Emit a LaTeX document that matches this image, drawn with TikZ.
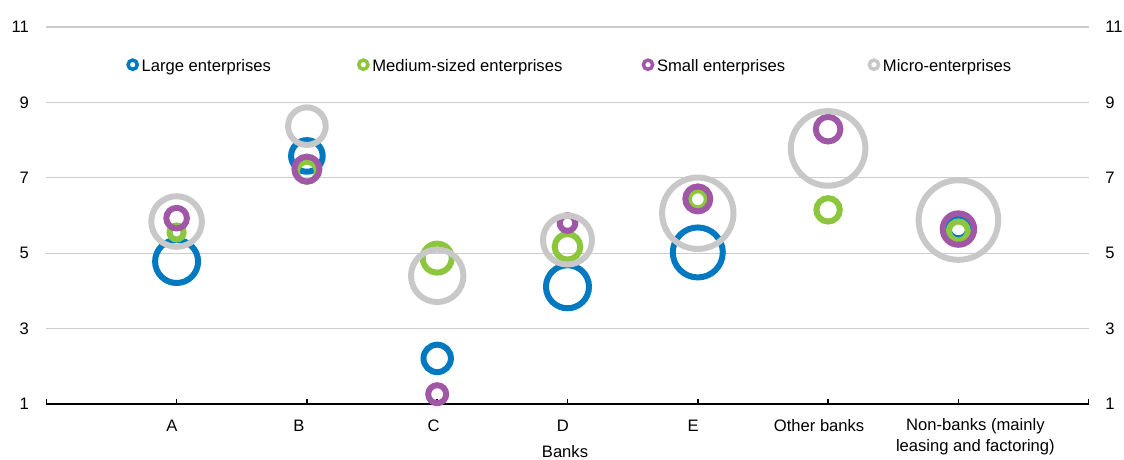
\documentclass[tikz,border=0pt]{standalone}
\usepackage{fontspec}
\setmainfont{Liberation Sans}
\definecolor{lgblue}{RGB}{0,121,193}
\definecolor{lggreen}{RGB}{140,198,62}
\definecolor{lgpurple}{RGB}{160,88,166}
\definecolor{lggrey}{RGB}{200,200,200}
\definecolor{lgrid}{RGB}{204,204,204}
\tikzset{
  bub/.style={line width=6pt},
  lgmark/.style={line width=3.5pt},
  lbl/.style={inner sep=0pt,font=\fontsize{16.6}{20}\selectfont},
}
\begin{document}
\begin{tikzpicture}
\pgfmathsetmacro{\bxstep}{130.3/28.45274}
\pgfmathsetmacro{\bystep}{37.7/28.45274}
\useasboundingbox (-46.3pt,-55pt) rectangle (1077.7pt,404pt);
\foreach \bv in {3,5,...,11}{\draw[lgrid,line width=1.3pt](0,{(\bv-1)*\bystep})--(8*\bxstep,{(\bv-1)*\bystep});}
\foreach \bv in {1,3,...,11}{\node[lbl,anchor=east](yl\bv) at (0,{(\bv-1)*\bystep})[xshift=-17.3pt]{\bv};}
\foreach \bv in {1,3,...,11}{\node[lbl,anchor=west](yr\bv) at (8*\bxstep,{(\bv-1)*\bystep})[xshift=16.4pt]{\bv};}
\draw[line width=2pt](0,0)--(8*\bxstep,0);
\foreach \bx in {0,...,8}{\draw[line width=1.5pt](\bx*\bxstep,0)--++(90:5pt);}
%\draw[gray,dashed](0,0) rectangle (8*\bxstep,10*\bystep);
\foreach \bx/\bxo/\blb in {1/-4.6/A,2/-8/B,3/-3.5/C,4/-4.7/D,5/-4.7/E,6/-9/Other banks}{\node[lbl,anchor=base](cat\bx) at (\bx*\bxstep,0)[xshift=\bxo pt,yshift=-27pt]{\blb};}
\node[lbl,anchor=base](cat7) at (7*\bxstep,0)[xshift=17pt,yshift=-26pt]{Non-banks (mainly};
\node[lbl,anchor=base](cat7b) at (7*\bxstep,0)[xshift=17pt,yshift=-47.7pt]{leasing and factoring)};
\node[lbl,anchor=base](banks) at (4*\bxstep,0)[xshift=-2.5pt,yshift=-53pt]{Banks};
% bubbles: category/value/radius
\foreach \bx/\bv/\br in {1/4.78/21.5,2/7.58/15.8,3/2.21/13.7,4/4.11/21.5,5/5.02/25,7/5.66/10}{\draw[bub,lgblue](\bx*\bxstep,{(\bv-1)*\bystep})circle[radius=\br pt];}
\foreach \bx/\bv/\br in {1/5.55/7,2/7.16/10,3/4.87/14.5,4/5.17/12.8,5/6.43/9,6/6.15/11.7,7/5.59/9.5}{\draw[bub,lggreen](\bx*\bxstep,{(\bv-1)*\bystep})circle[radius=\br pt];}
\foreach \bx/\bv/\br in {1/5.93/10.3,2/7.23/12.5,3/1.26/9,4/5.80/7.8,5/6.44/12.5,6/8.29/12.3,7/5.64/15.7}{\draw[bub,lgpurple](\bx*\bxstep,{(\bv-1)*\bystep})circle[radius=\br pt];}
\foreach \bx/\bv/\br in {1/5.84/25.3,2/8.37/18.8,3/4.40/26.2,4/5.35/24.5,5/6.06/35.7,6/7.78/37.3,7/5.88/39.8}{\draw[bub,lggrey](\bx*\bxstep,{(\bv-1)*\bystep})circle[radius=\br pt];}
% legend
\foreach \lx/\lcol/\ltxt [count=\li] in {0.663/lgblue/Large enterprises,2.433/lggreen/Medium-sized enterprises,4.618/lgpurple/Small enterprises,6.352/lggrey/Micro-enterprises}{
\draw[lgmark,\lcol](\lx*\bxstep,9*\bystep)circle[radius=4.6pt];
\node[lbl,anchor=base west](lg\li) at (\lx*\bxstep,9*\bystep)[xshift=8.8pt,yshift=-6.7pt]{\ltxt};
}
\end{tikzpicture}
\end{document}
